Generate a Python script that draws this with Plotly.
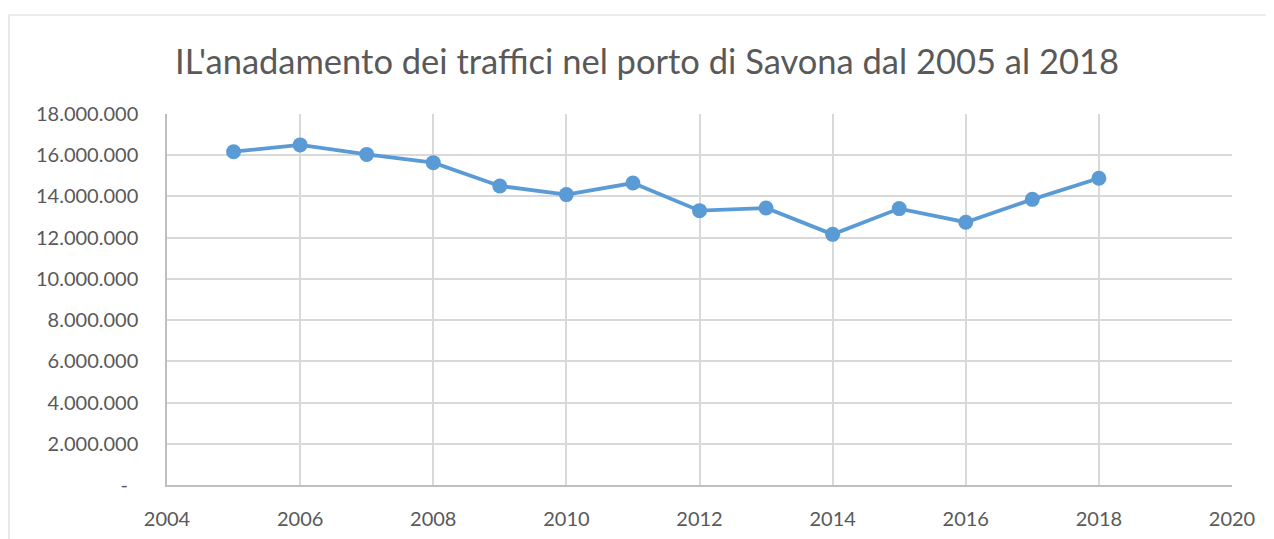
import plotly.graph_objects as go

years = [2005, 2006, 2007, 2008, 2009, 2010, 2011, 2012, 2013, 2014, 2015, 2016, 2017, 2018]
traffic = [16170000, 16500000, 16040000, 15640000, 14510000, 14090000, 14650000,
           13310000, 13440000, 12160000, 13410000, 12750000, 13860000, 14880000]

y_tickvals = [0, 2000000, 4000000, 6000000, 8000000, 10000000, 12000000, 14000000, 16000000, 18000000]
y_ticktext = ["-  ", "2.000.000", "4.000.000", "6.000.000", "8.000.000", "10.000.000",
              "12.000.000", "14.000.000", "16.000.000", "18.000.000"]
x_tickvals = [2004, 2006, 2008, 2010, 2012, 2014, 2016, 2018, 2020]

title_text = "IL'anadamento dei traffici nel porto di Savona dal 2005 al 2018"

font_family = "Lato, Open Sans, sans-serif"
grey = "#595959"

# page has an 8px body offset; margins compensate
L, R, T, B = 159, 50, 106, 62
W, H = 1274, 539
pw = W - L - R
ph = H - T - B

fig = go.Figure()
fig.add_trace(go.Scatter(
    x=years, y=traffic, mode="lines+markers",
    line=dict(color="#5B9BD5", width=3.8),
    marker=dict(color="#5B9BD5", size=15),
    showlegend=False,
))

fig.update_layout(
    width=W, height=H,
    margin=dict(l=L, r=R, t=T, b=B),
    paper_bgcolor="white", plot_bgcolor="white",
    font=dict(family=font_family, color=grey),
    title=dict(text=title_text, x=(647 - 8) / W, xanchor="center", xref="container",
               y=1 - 54 / H, yanchor="middle", yref="container",
               font=dict(size=34.5, color=grey, family=font_family)),
    xaxis=dict(range=[2004, 2020], tickvals=x_tickvals, showgrid=True,
               gridcolor="#d9d9d9", gridwidth=1.5, showline=True, linecolor="#bfbfbf",
               linewidth=1.5, zeroline=False, ticks="", ticklabelstandoff=15,
               tickfont=dict(size=20, color=grey)),
    yaxis=dict(range=[0, 18000000], tickvals=y_tickvals, ticktext=y_ticktext,
               showgrid=True, gridcolor="#d9d9d9", gridwidth=1.5, showline=True,
               linecolor="#bfbfbf", linewidth=1.5, zeroline=False, ticks="",
               ticklabelstandoff=23, tickfont=dict(size=20, color=grey)),
    shapes=[dict(type="rect", xref="paper", yref="paper",
                 x0=(1 - L) / pw, x1=(1262 - L) / pw,
                 y0=(H - B - 560) / ph, y1=(H - B - 7) / ph,
                 line=dict(color="#d9d9d9", width=1.2), fillcolor="rgba(0,0,0,0)",
                 layer="below")],
)

fig.write_html("out.html")
